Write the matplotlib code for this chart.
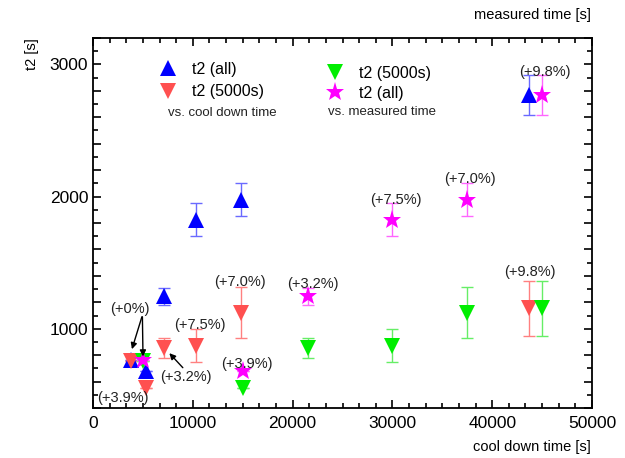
import numpy as np
import matplotlib
matplotlib.use("Agg")
import matplotlib.pyplot as plt
from matplotlib.ticker import MultipleLocator, FuncFormatter
from matplotlib.lines import Line2D

plt.rcParams['font.family'] = ['Liberation Sans', 'DejaVu Sans']

# t2 vs. cool down time
cool_x = [3800, 5300, 7100, 10300, 14800, 43700]
# t2 vs. measured time
meas_x = [5000, 15000, 21500, 30000, 37500, 45000]

t2_all = [760, 680, 1245, 1825, 1975, 2770]
t2_all_err = [0, 0, 65, 125, 125, 150]
t2_5000 = [755, 550, 855, 870, 1120, 1155]
t2_5000_err = [0, 0, 76, 125, 193, 208]

# percent labels: (text, x, y)
pct_labels = [
    ("(+9.8%)", 45300, 2940), ("(+7.0%)", 37800, 2130), ("(+7.5%)", 30300, 1975),
    ("(+3.2%)", 22000, 1340), ("(+9.8%)", 43800, 1430), ("(+7.0%)", 14700, 1350),
    ("(+7.5%)", 10700, 1025), ("(+3.9%)", 15400, 735), ("(+3.9%)", 3000, 477),
]

blue = "#0000ff"
red = "#ff5050"
green = "#00ee00"
magenta = "#ff00ff"

fig = plt.figure(figsize=(6.25, 4.58), dpi=100)
ax = fig.add_axes([93/625, 50/458, 499/625, 370/458])

def series(x, y, err, color, ecolor, marker, ms):
    ax.errorbar(x, y, yerr=err, fmt='none', ecolor=ecolor, elinewidth=1.0,
                capsize=4, capthick=1.0, zorder=2)
    ax.plot(x, y, linestyle='none', marker=marker, ms=ms, color=color,
            markeredgewidth=0, zorder=3)

series(cool_x, t2_all, t2_all_err, blue, "#6a6aff", '^', 12)
series(cool_x, t2_5000, t2_5000_err, red, "#ff8080", 'v', 12)
series(meas_x, t2_5000, t2_5000_err, green, "#66ee66", 'v', 12)
series(meas_x, t2_all, t2_all_err, magenta, "#ff66ff", '*', 14)

for txt, x, y in pct_labels:
    ax.text(x, y, txt, ha='center', va='center', fontsize=10.5, color='#222222', zorder=4)

# arrows
arr = dict(arrowstyle='-|>', color='black', lw=1.0, mutation_scale=9, shrinkA=0, shrinkB=0)
ax.text(3700, 1152, "(+0%)", ha='center', va='center', fontsize=10.5, color='#222222')
ax.annotate("", xy=(3900, 845), xytext=(4900, 1090), arrowprops=arr)
ax.annotate("", xy=(5010, 790), xytext=(4950, 1090), arrowprops=arr)
ax.text(9300, 636, "(+3.2%)", ha='center', va='center', fontsize=10.5, color='#222222')
ax.annotate("", xy=(7650, 815), xytext=(9000, 705), arrowprops=arr)

ax.set_xlim(0, 50000)
ax.set_ylim(400, 3200)
ax.xaxis.set_major_locator(MultipleLocator(10000))
ax.xaxis.set_minor_locator(MultipleLocator(10000/6))
ax.yaxis.set_major_locator(MultipleLocator(200))
ax.yaxis.set_minor_locator(MultipleLocator(100))
ax.yaxis.set_major_formatter(FuncFormatter(lambda v, p: "%d" % v if v % 1000 == 0 else ""))

ax.tick_params(which='both', direction='in', top=True, right=True, width=1.2,
               labelsize=12.5, colors='black')
ax.tick_params(which='major', length=6)
ax.tick_params(which='minor', length=3.5)
ax.tick_params(axis='x', pad=6)
for s in ax.spines.values():
    s.set_linewidth(1.3)

# legends
h1 = [Line2D([], [], ls='none', marker='^', ms=12, color=blue, mew=0),
      Line2D([], [], ls='none', marker='v', ms=12, color=red, mew=0)]
h2 = [Line2D([], [], ls='none', marker='v', ms=12, color=green, mew=0),
      Line2D([], [], ls='none', marker='*', ms=14, color=magenta, mew=0)]
leg1 = ax.legend(h1, ["t2 (all)", "t2 (5000s)"], loc='upper left',
                 bbox_to_anchor=((158-93)/499, (420-74)/370), frameon=False,
                 fontsize=11.5, handlelength=1.2, handletextpad=0.9, labelspacing=0.45,
                 borderpad=0, borderaxespad=0)
ax.add_artist(leg1)
ax.legend(h2, ["t2 (5000s)", "t2 (all)"], loc='upper left',
          bbox_to_anchor=((325-93)/499, (420-78)/370), frameon=False,
          fontsize=11.5, handlelength=1.2, handletextpad=0.9, labelspacing=0.3,
          borderpad=0, borderaxespad=0)
ax.text((168-93)/499, (408-113)/370, "vs. cool down time", transform=ax.transAxes,
        fontsize=9.5, va='center', ha='left', color='#222222')
ax.text((328-93)/499, (408-112)/370, "vs. measured time", transform=ax.transAxes,
        fontsize=9.5, va='center', ha='left', color='#222222')

fig.text(591/625, 1-15/458, "measured time [s]", ha='right', va='center', fontsize=10.5)
fig.text(591/625, 1-447/458, "cool down time [s]", ha='right', va='center', fontsize=10.5)
fig.text(32/625, 1-54/458, "t2 [s]", ha='center', va='center', rotation=90, fontsize=10.5)

fig.savefig("out.png", dpi=100)
